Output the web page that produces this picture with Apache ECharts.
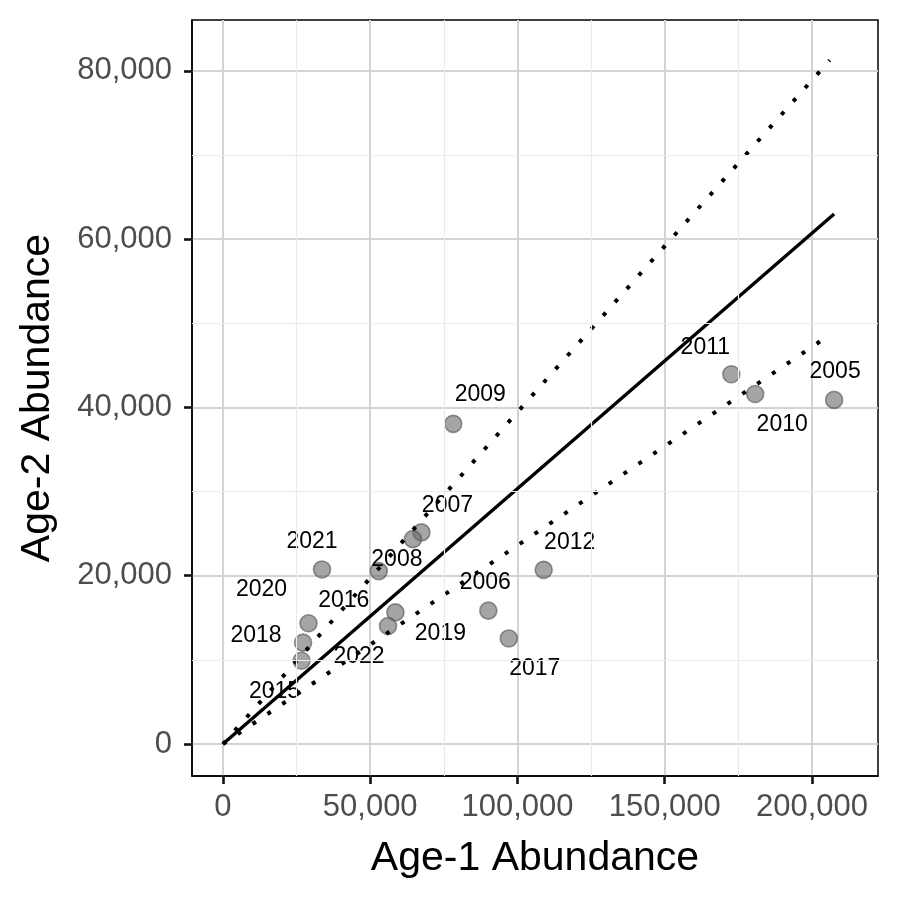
<!DOCTYPE html>
<html>
<head>
<meta charset="utf-8">
<script src="https://cdn.jsdelivr.net/npm/echarts@6/dist/echarts.min.js"></script>
<style>html,body{margin:0;padding:0;background:#fff}#c{width:900px;height:900px}</style>
</head>
<body>
<div id="c"></div>
<script>
// ---- data ----
var years = [2005, 2006, 2007, 2008, 2009, 2010, 2011, 2012, 2015, 2016, 2017, 2018, 2019, 2020, 2021, 2022];
var age1  = [207500, 90100, 67400, 64500, 78200, 180700, 172600, 108900, 26700, 52900, 97050, 27200, 58550, 29050, 33650, 56050];
var age2  = [40900, 15850, 25150, 24350, 38050, 41600, 43950, 20700, 9900, 20550, 12550, 12050, 15650, 14350, 20750, 14030];
// label offsets (style only, in px)
var labelOffsets = [[1,-28],[-3,-28],[26,-27],[-16,21],[27,-29],[27,31],[-26,-27],[26,-27],[-27,31],[-35,30],[26,30],[-47,-7],[45,21],[-47,-34],[-10,-28],[-29,31]];

var fitX   = [0, 207500];
var fitY   = [0, 63000];
var upperX = [0, 206000];
var upperY = [0, 81270];
var lowerX = [0, 206000];
var lowerY = [0, 48620];

var xTicks = [0, 50000, 100000, 150000, 200000];
var xMinor = [25000, 75000, 125000, 175000];
var yTicks = [0, 20000, 40000, 60000, 80000];
var yMinor = [10000, 30000, 50000, 70000];

var FONT = 'Liberation Sans, Arial, Helvetica, sans-serif';
function fmt(v){ return v.toLocaleString('en-US'); }
function pairs(xs, ys){ return xs.map(function(x,i){ return [x, ys[i]]; }); }

var pts = years.map(function(y,i){
  return {
    value: [age1[i], age2[i]],
    name: String(y),
    label: { show: true, position: 'inside', offset: labelOffsets[i], formatter: String(y),
             color: '#000', fontSize: 23, fontFamily: FONT }
  };
});

var minorLines = xMinor.map(function(v){ return { xAxis: v }; })
  .concat(yMinor.map(function(v){ return { yAxis: v }; }));

var chart = echarts.init(document.getElementById('c'), null, {renderer: 'canvas'});
chart.setOption({
  animation: false,
  backgroundColor: '#fff',
  grid: { left: 192, right: 22, top: 20, bottom: 124, show: true, borderColor: '#000', borderWidth: 1.5, backgroundColor: 'transparent' },
  xAxis: {
    type: 'value', min: -10500, max: 222400,
    name: 'Age-1 Abundance', nameLocation: 'middle', nameGap: 62,
    nameTextStyle: { fontSize: 41, color: '#000', fontFamily: FONT },
    axisLine: { show: true, onZero: false, lineStyle: { color: '#000', width: 1.5 } },
    axisTick: { show: true, inside: false, customValues: xTicks, length: 8, lineStyle: { color: '#111', width: 2.6 } },
    axisLabel: { customValues: xTicks, formatter: fmt, fontSize: 31, color: '#4d4d4d', fontFamily: FONT, margin: 16 },
    splitLine: { show: true, lineStyle: { color: '#d3d3d3', width: 2 } }
  },
  yAxis: {
    type: 'value', min: -3800, max: 86050,
    name: 'Age-2 Abundance', nameLocation: 'middle', nameGap: 134, nameRotate: 90,
    nameTextStyle: { fontSize: 41, color: '#000', fontFamily: FONT },
    axisLine: { show: true, onZero: false, lineStyle: { color: '#000', width: 1.5 } },
    axisTick: { show: true, inside: false, customValues: yTicks, length: 8, lineStyle: { color: '#111', width: 2.6 } },
    axisLabel: { customValues: yTicks, formatter: fmt, fontSize: 31, color: '#4d4d4d', fontFamily: FONT, margin: 20 },
    splitLine: { show: true, lineStyle: { color: '#d3d3d3', width: 2 } }
  },
  series: [
    {
      type: 'line', data: [], silent: true, z: 1,
      markLine: { silent: true, symbol: 'none', label: { show: false },
        lineStyle: { color: '#ebebeb', width: 1.2, type: 'solid' }, data: minorLines, animation: false }
    },
    {
      type: 'scatter', data: pts, symbolSize: 17, z: 3,
      itemStyle: { color: 'rgba(105,105,105,0.6)', borderColor: 'rgba(80,80,80,0.6)', borderWidth: 1.6, opacity: 1 },
      emphasis: { disabled: true }
    },
    {
      type: 'line', data: pairs(fitX, fitY), symbol: 'none', z: 4, silent: true,
      lineStyle: { color: '#000', width: 3.4 }
    },
    {
      type: 'line', data: pairs(upperX, upperY), symbol: 'none', z: 4, silent: true,
      lineStyle: { color: '#000', width: 4, type: [4, 13.9], cap: 'butt' }
    },
    {
      type: 'line', data: pairs(lowerX, lowerY), symbol: 'none', z: 4, silent: true,
      lineStyle: { color: '#000', width: 4, type: [4, 13.9], cap: 'butt' }
    }
  ]
});
</script>
</body>
</html>
